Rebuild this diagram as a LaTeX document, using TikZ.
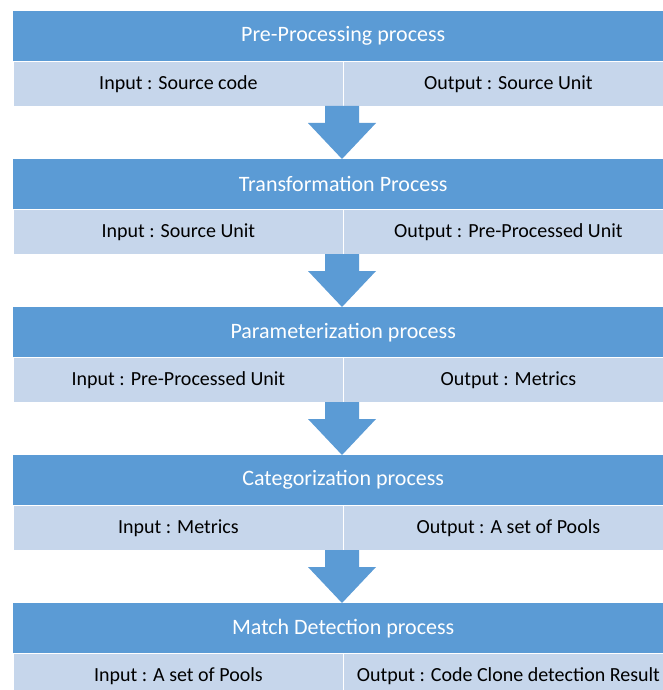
\documentclass[tikz,border=0pt]{standalone}
\usepackage{fontspec}
\setmainfont{Carlito}
\definecolor{hdr}{HTML}{5B9BD5}
\definecolor{sub}{HTML}{C6D6EB}
\begin{document}
\begin{tikzpicture}[x=1pt,y=-1pt,
  hdrbox/.style={fill=hdr,draw=none,minimum width=660pt,minimum height=50pt,inner sep=0pt,anchor=north west,
    text=white,font=\fontsize{22}{26}\selectfont},
  subbox/.style={fill=sub,draw=white,line width=0.8pt,minimum width=330pt,minimum height=45pt,inner sep=0pt,anchor=north west,
    text=black,font=\fontsize{20}{24}\selectfont},
  flowarrow/.style={fill=hdr,draw=none}]
\useasboundingbox (0,0) rectangle (663,690);
\clip (0,0) rectangle (663,690);
\fill[white] (0,0) rectangle (663,690);
\foreach \i/\h/\a/\b in {0/Pre-Processing process/Input : Source code/Output : Source Unit,
  1/Transformation Process/Input : Source Unit/Output : Pre-Processed Unit,
  2/Parameterization process/Input : Pre-Processed Unit/Output : Metrics,
  3/Categorization process/Input : Metrics/Output : A set of Pools,
  4/Match Detection process/Input : A set of Pools/Output : Code Clone detection Result}{
  \pgfmathsetmacro{\yy}{11+148*\i}
  \node[hdrbox] (h\i) at (13,\yy) {\h};
  \node[subbox] (l\i) at (13,\yy+50) {\a};
  \node[subbox] (r\i) at (343,\yy+50) {\b};
}
\foreach \i in {0,...,3}{
  \pgfmathsetmacro{\yy}{11+148*\i+95}
  \fill[flowarrow] (325,\yy) -- (359,\yy) -- (359,\yy+17) -- (376,\yy+17) -- (342,\yy+53) -- (308,\yy+17) -- (325,\yy+17) -- cycle;
}
\end{tikzpicture}
\end{document}
